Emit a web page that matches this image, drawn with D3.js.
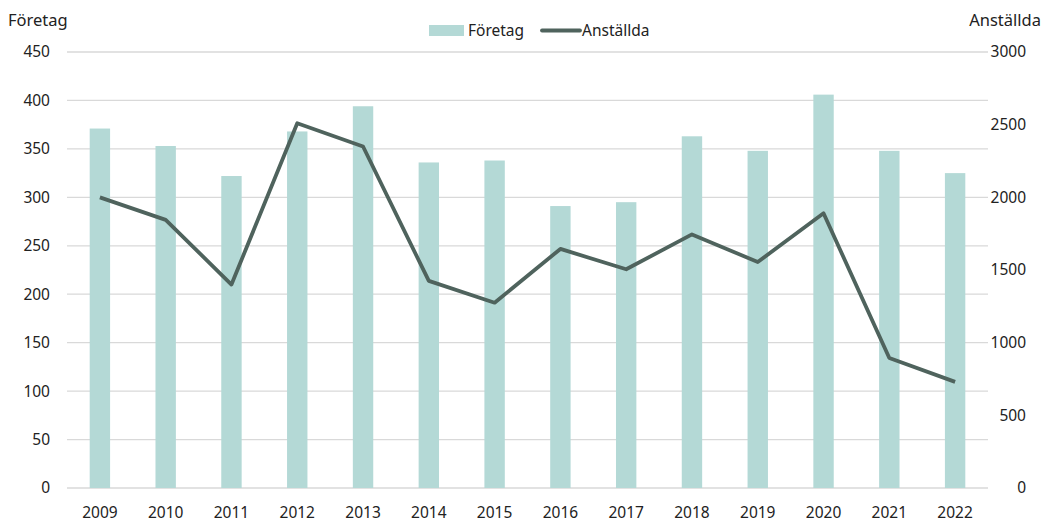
<!DOCTYPE html>
<html>
<head>
<meta charset="utf-8">
<script src="https://cdn.jsdelivr.net/npm/d3@7"></script>
<style>
  body { margin: 0; background: #fff; }
  text { font-family: "Noto Sans", "Open Sans", sans-serif; fill: #222; }
</style>
</head>
<body>
<svg id="chart" width="1047" height="522"></svg>
<script>
const years = ['2009', '2010', '2011', '2012', '2013', '2014', '2015', '2016', '2017', '2018', '2019', '2020', '2021', '2022'];
const foretag = [371, 353, 322, 368, 394, 336, 338, 291, 295, 363, 348, 406, 348, 325];
const anstallda = [2000, 1845, 1400, 2510, 2350, 1425, 1275, 1645, 1505, 1745, 1555, 1890, 895, 730];
const leftTicks = [0, 50, 100, 150, 200, 250, 300, 350, 400, 450];
const rightTicks = [0, 500, 1000, 1500, 2000, 2500, 3000];

const svg = d3.select('#chart');
const plotLeft = 67, plotRight = 988, plotTop = 52, plotBottom = 488;

const x = d3.scaleBand().domain(years).range([plotLeft, plotRight]).paddingInner(0.69).paddingOuter(0.345);
const yL = d3.scaleLinear().domain([0, 450]).range([plotBottom, plotTop]);
const yR = d3.scaleLinear().domain([0, 3000]).range([plotBottom, plotTop]);

// gridlines
svg.append('g')
    .selectAll('line')
    .data(leftTicks)
    .enter()
    .append('line')
    .attr('x1', plotLeft)
    .attr('x2', plotRight)
    .attr('y1', d => yL(d))
    .attr('y2', d => yL(d))
    .attr('stroke', '#d9d9d9')
    .attr('stroke-width', 1.3);

// bars
svg.append('g')
    .selectAll('rect')
    .data(foretag)
    .enter()
    .append('rect')
    .attr('x', (d, i) => x(years[i]))
    .attr('width', x.bandwidth())
    .attr('y', d => yL(d))
    .attr('height', d => yL(0) - yL(d))
    .attr('fill', '#b4d9d6');

// line
const line = d3.line()
    .x((d, i) => x(years[i]) + x.bandwidth() / 2)
    .y(d => yR(d));

svg.append('path')
    .datum(anstallda)
    .attr('d', line)
    .attr('fill', 'none')
    .attr('stroke', '#4f635d')
    .attr('stroke-width', 3.8)
    .attr('stroke-linejoin', 'round');

// axes labels
svg.append('g')
    .selectAll('text')
    .data(leftTicks)
    .enter()
    .append('text')
    .attr('x', 50)
    .attr('y', d => yL(d))
    .attr('dy', '0.35em')
    .attr('text-anchor', 'end')
    .style('font-size', '15.5px')
    .text(d => d);

svg.append('g')
    .selectAll('text')
    .data(rightTicks)
    .enter()
    .append('text')
    .attr('x', 1026)
    .attr('y', d => yR(d))
    .attr('dy', '0.35em')
    .attr('text-anchor', 'end')
    .style('font-size', '15.5px')
    .text(d => d);

svg.append('g')
    .selectAll('text')
    .data(years)
    .enter()
    .append('text')
    .attr('x', d => x(d) + x.bandwidth() / 2)
    .attr('y', 518)
    .attr('text-anchor', 'middle')
    .style('font-size', '15.5px')
    .text(d => d);

// axis titles
svg.append('text')
    .attr('x', 8)
    .attr('y', 26)
    .style('font-size', '16.5px')
    .text('Företag');

svg.append('text')
    .attr('x', 1041)
    .attr('y', 26)
    .attr('text-anchor', 'end')
    .style('font-size', '16.5px')
    .text('Anställda');

// legend
const legend = svg.append('g');
legend.append('rect')
    .attr('x', 429)
    .attr('y', 25)
    .attr('width', 35)
    .attr('height', 11)
    .attr('fill', '#b4d9d6');
legend.append('text')
    .attr('x', 468)
    .attr('y', 36)
    .style('font-size', '15.5px')
    .text('Företag');
legend.append('line')
    .attr('x1', 542)
    .attr('x2', 580)
    .attr('y1', 30.5)
    .attr('y2', 30.5)
    .attr('stroke', '#4f635d')
    .attr('stroke-width', 3.8)
    .attr('stroke-linecap', 'round');
legend.append('text')
    .attr('x', 582)
    .attr('y', 36)
    .style('font-size', '15.5px')
    .text('Anställda');
</script>
</body>
</html>
